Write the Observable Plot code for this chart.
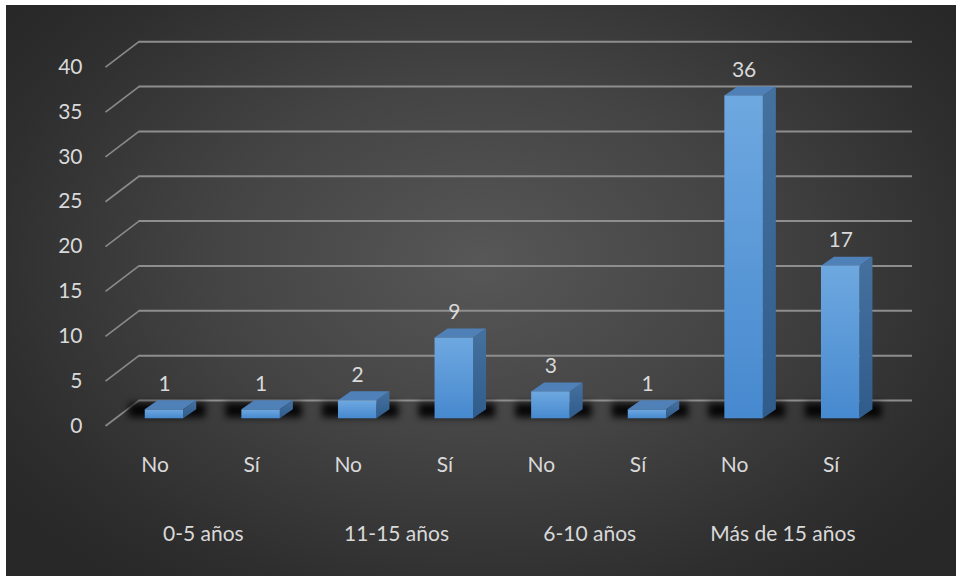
<!DOCTYPE html>
<html>
<head>
<meta charset="utf-8">
<script src="https://cdn.jsdelivr.net/npm/d3@7"></script>
<script src="https://cdn.jsdelivr.net/npm/@observablehq/plot@0.6"></script>
<style>
  html, body { margin: 0; padding: 0; background: #ffffff; }
  #wrap { position: relative; width: 956px; height: 576px; overflow: hidden; }
  #bg { position: absolute; left: 6px; top: 5px; width: 950px; height: 571px;
        background: radial-gradient(ellipse 62% 70% at 50% 45%, #575757 0%, #444444 45%, #2e2e2e 85%, #282828 100%); }
  #chart { position: absolute; left: 0; top: 0; }
</style>
</head>
<body>
<div id="wrap"><div id="bg"></div><div id="chart"></div></div>
<script>
// ---- data ----
const groups = ["0-5 años", "11-15 años", "6-10 años", "Más de 15 años"];
const answers = ["No", "Sí"];
const values = [1, 1, 2, 9, 3, 1, 36, 17];
const yTicks = [0, 5, 10, 15, 20, 25, 30, 35, 40];

// ---- geometry (pixel constants converted to data units) ----
const W = 956, H = 576;
const X0 = 164, XS = 96.6;      // px of first slot, px per slot
const Y0 = 418.3, YS = 8.97;    // px of value 0 on bar front, px per unit
const hw = 19.25 / XS;          // half bar width (slots)
const ddx = 13 / XS, ddy = 9 / YS; // bar depth
const backOff = 18.3 / YS;      // back wall above bar base
const frontOff = 7.2 / YS;      // front edge below bar base
const wallL = (138.5 - X0) / XS, wallR = (912 - X0) / XS, frontL = (105 - X0) / XS;

const rows = values.map((v, i) => ({
  i, v, answer: answers[i % 2], group: groups[Math.floor(i / 2)]
}));
const sides = rows.flatMap(d => [
  {i: d.i, x: d.i + hw, y1: 0, y2: d.v},
  {i: d.i, x: d.i + hw + ddx, y1: ddy, y2: d.v + ddy}
]);
const tops = rows.flatMap(d => [
  {i: d.i, y: d.v, x1: d.i - hw, x2: d.i + hw},
  {i: d.i, y: d.v + ddy, x1: d.i - hw + ddx, x2: d.i + hw + ddx}
]);

const plot = Plot.plot({
  width: W, height: H,
  marginTop: 0, marginRight: 0, marginBottom: 0, marginLeft: 0,
  style: {background: "transparent", color: "#d9d9d9", fontFamily: "Lato, 'Open Sans', sans-serif", fontSize: "21px", overflow: "visible"},
  x: {type: "linear", domain: [0, 7], range: [X0, X0 + 7 * XS], axis: null},
  y: {type: "linear", domain: [0, 40], range: [Y0, Y0 - 40 * YS], axis: null},
  marks: [
    // back wall gridlines
    Plot.ruleY(yTicks, {y: d => d + backOff, x1: wallL, x2: wallR, stroke: "#8e8e8e", strokeWidth: 2}),
    // side wall diagonals
    Plot.link(yTicks, {x1: wallL, y1: d => d + backOff, x2: frontL, y2: d => d - frontOff, stroke: "#8a8a8a", strokeWidth: 1.6}),
    // y tick labels
    Plot.text(yTicks, {x: frontL, y: d => d - frontOff, dx: -23, text: d => String(d), textAnchor: "end", fill: "#d9d9d9"}),
    // floor shadows
    Plot.rect(rows, {x1: d => d.i - hw - 16 / XS, x2: d => d.i + hw + 22 / XS, y1: 0.1, y2: 1.7, fill: "#000000", fillOpacity: 0.9, ariaLabel: "shadow"}),
    // bar faces
    Plot.areaY(sides, {x: "x", y1: "y1", y2: "y2", z: "i", fill: "url(#sideGrad)"}),
    Plot.areaX(tops, {y: "y", x1: "x1", x2: "x2", z: "i", fill: "#4f80b8"}),
    Plot.rect(rows, {x1: d => d.i - hw, x2: d => d.i + hw, y1: 0, y2: "v", fill: "url(#frontGrad)"}),
    // data labels
    Plot.text(rows, {x: "i", y: "v", dy: -26, text: d => String(d.v), fill: "#d9d9d9"}),
    // category labels
    Plot.text(rows, {x: "i", y: 0, dx: -9.5, dy: 46, text: "answer", fill: "#d9d9d9"}),
    Plot.text(groups, {x: (d, j) => 2 * j + 0.5, y: 0, dx: -9.5, dy: 115, text: d => d, fill: "#d9d9d9"})
  ]
});

// gradient / filter definitions
const ns = "http://www.w3.org/2000/svg";
const defs = document.createElementNS(ns, "defs");
defs.innerHTML = `
  <linearGradient id="frontGrad" x1="0" y1="0" x2="0" y2="1">
    <stop offset="0" stop-color="#6ea8e0"/>
    <stop offset="1" stop-color="#4789cf"/>
  </linearGradient>
  <linearGradient id="sideGrad" x1="0" y1="0" x2="0" y2="1">
    <stop offset="0" stop-color="#45719f"/>
    <stop offset="1" stop-color="#2f5c8b"/>
  </linearGradient>
  <filter id="shadowBlur" filterUnits="userSpaceOnUse" x="0" y="0" width="956" height="576">
    <feGaussianBlur stdDeviation="5 3"/>
  </filter>`;
plot.insertBefore(defs, plot.firstChild);
plot.querySelectorAll("g").forEach(g => {
  const lbl = g.getAttribute("aria-label");
  const f = (g.getAttribute("fill") || "").toLowerCase();
  if (lbl === "shadow" || f === "#000000") {
    g.setAttribute("filter", "url(#shadowBlur)");
    g.style.filter = "blur(3.5px)";
  }
});

document.getElementById("chart").appendChild(plot);
</script>
</body>
</html>
